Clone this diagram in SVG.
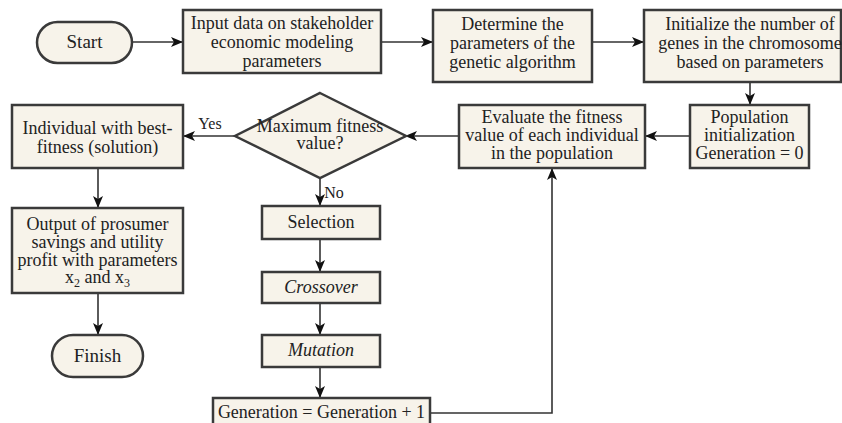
<svg xmlns="http://www.w3.org/2000/svg" width="842" height="423" viewBox="0 0 842 423">
<defs>
<marker id="ah" viewBox="0 0 12 10" refX="11" refY="5" markerWidth="12" markerHeight="10" markerUnits="userSpaceOnUse" orient="auto">
<path d="M0,0 L12,5 L0,10 L3,5 Z" fill="#111"/>
</marker>
<style>
.b{fill:#f7f3ea;stroke:#3a3a3a;stroke-width:2.5}
.t{font-family:'Liberation Serif','DejaVu Serif',serif;font-size:18px;fill:#222;text-anchor:middle}
.i{font-style:italic}
.c{fill:none;stroke:#333;stroke-width:1.6;marker-end:url(#ah)}
</style>
</defs>
<rect width="842" height="423" fill="#fff"/>
<g id="connectors">
<line class="c" x1="132" y1="42" x2="182" y2="42"/>
<line class="c" x1="381" y1="42" x2="432" y2="42"/>
<line class="c" x1="592" y1="42" x2="643" y2="42"/>
<line class="c" x1="750" y1="82" x2="750" y2="104"/>
<line class="c" x1="690" y1="136" x2="646" y2="136"/>
<line class="c" x1="459" y1="136" x2="406" y2="136"/>
<line class="c" x1="235" y1="136" x2="184" y2="136"/>
<line class="c" x1="98" y1="168" x2="98" y2="207"/>
<line class="c" x1="98" y1="293" x2="98" y2="334"/>
<line class="c" x1="320" y1="178" x2="320" y2="205"/>
<line class="c" x1="320" y1="239" x2="320" y2="271"/>
<line class="c" x1="320" y1="303" x2="320" y2="334"/>
<line class="c" x1="320" y1="367" x2="320" y2="397"/>
<polyline class="c" points="430,413 552,413 552,169"/>
<text class="t" x="210" y="129" style="font-size:16px">Yes</text>
<text class="t" x="334" y="198" style="font-size:16px">No</text>
</g>
<g id="start">
<rect class="b" x="37" y="22" width="95" height="41" rx="20.5"/>
<text class="t" x="84.5" y="48" style="font-size:19px">Start</text>
</g>
<g id="input">
<rect class="b" x="183" y="10" width="198" height="63"/>
<text class="t" x="282" y="29">Input data on stakeholder</text>
<text class="t" x="282" y="48">economic modeling</text>
<text class="t" x="282" y="67">parameters</text>
</g>
<g id="determine">
<rect class="b" x="433" y="10" width="159" height="72"/>
<text class="t" x="512.5" y="30">Determine the</text>
<text class="t" x="512.5" y="49">parameters of the</text>
<text class="t" x="512.5" y="68">genetic algorithm</text>
</g>
<g id="initialize">
<rect class="b" x="644" y="10" width="197" height="72"/>
<text class="t" x="750" y="30">Initialize the number of</text>
<text class="t" x="750" y="49">genes in the chromosome</text>
<text class="t" x="750" y="68">based on parameters</text>
</g>
<g id="population">
<rect class="b" x="690" y="105" width="119" height="63"/>
<text class="t" x="749.5" y="123">Population</text>
<text class="t" x="749.5" y="141">initialization</text>
<text class="t" x="749.5" y="159">Generation = 0</text>
</g>
<g id="evaluate">
<rect class="b" x="459" y="105" width="186" height="63"/>
<text class="t" x="552" y="123">Evaluate the fitness</text>
<text class="t" x="552" y="141">value of each individual</text>
<text class="t" x="552" y="159">in the population</text>
</g>
<g id="decision">
<polygon class="b" points="320,93 406,136 320,178 235,136"/>
<text class="t" x="320" y="132">Maximum fitness</text>
<text class="t" x="320" y="149">value?</text>
</g>
<g id="best">
<rect class="b" x="12" y="105" width="171" height="63"/>
<text class="t" x="97.5" y="134">Individual with best-</text>
<text class="t" x="97.5" y="153">fitness (solution)</text>
</g>
<g id="output">
<rect class="b" x="12" y="208" width="171" height="85"/>
<text class="t" x="97.5" y="230">Output of prosumer</text>
<text class="t" x="97.5" y="248">savings and utility</text>
<text class="t" x="97.5" y="266">profit with parameters</text>
<text class="t" x="97.5" y="283">x<tspan style="font-size:12px" dy="4">2</tspan><tspan dy="-4"> and x</tspan><tspan style="font-size:12px" dy="4">3</tspan></text>
</g>
<g id="finish">
<rect class="b" x="52" y="335" width="91" height="42" rx="21"/>
<text class="t" x="97.5" y="362" style="font-size:19px">Finish</text>
</g>
<g id="selection">
<rect class="b" x="262" y="206" width="118" height="33"/>
<text class="t" x="321" y="228">Selection</text>
</g>
<g id="crossover">
<rect class="b" x="262" y="272" width="118" height="31"/>
<text class="t i" x="321" y="293">Crossover</text>
</g>
<g id="mutation">
<rect class="b" x="262" y="335" width="118" height="32"/>
<text class="t i" x="321" y="356">Mutation</text>
</g>
<g id="generation">
<rect class="b" x="213" y="398" width="217" height="35"/>
<text class="t" x="321.5" y="418">Generation = Generation + 1</text>
</g>
</svg>
